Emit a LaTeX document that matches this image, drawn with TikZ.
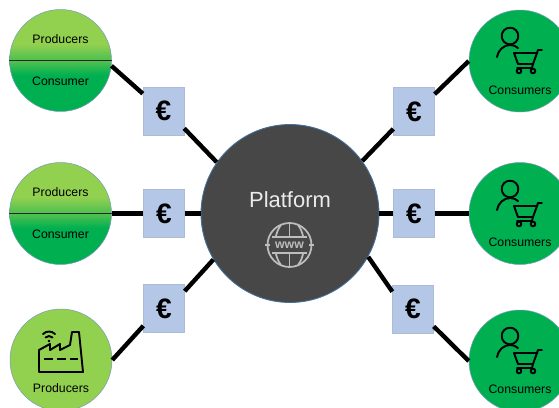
\documentclass[tikz,border=0pt]{standalone}
\usepackage{fontspec}
\setmainfont{Liberation Sans}
\definecolor{prodgreen}{HTML}{92D050}
\definecolor{consgreen}{HTML}{00B050}
\definecolor{midgreen}{HTML}{4FC050}
\definecolor{eurobox}{HTML}{B4C7E7}
\definecolor{platgray}{HTML}{474747}
\definecolor{platrim}{HTML}{41719C}
\definecolor{iconline}{HTML}{BDBDBD}
\pgfdeclareverticalshading{splitgreen}{100bp}{color(0bp)=(consgreen); color(43bp)=(consgreen); color(49.5bp)=(midgreen); color(50.5bp)=(midgreen); color(58bp)=(prodgreen); color(100bp)=(prodgreen)}
\tikzset{
    role/.style={circle, minimum size=2.04cm, inner sep=0pt, draw=platrim!70, line width=0.3pt},
    prod/.style={role, fill=prodgreen},
    cons/.style={role, fill=consgreen},
    both/.style={role, shading=splitgreen},
    rolelabel/.style={font=\fontsize{7}{8}\selectfont, inner sep=0pt},
    eurosign/.style={rectangle, fill=eurobox, draw=eurobox!85!gray, line width=0.2pt, minimum width=0.82cm, minimum height=0.96cm, inner sep=0pt, font=\bfseries\fontsize{16}{16}\selectfont},
    link/.style={line width=2.5pt, black},
    icon/.style={line width=1.1pt, black, line cap=round, line join=round}
}

\begin{document}
\begin{tikzpicture}[x=0.02cm, y=-0.02cm]
\useasboundingbox (0,0) rectangle (559,407);
\clip (0,0) rectangle (559,407);

% Platform in the middle
\node[circle, minimum size=3.56cm, inner sep=0pt, fill=platgray, draw=platrim, line width=0.5pt] (plat) at (290,213.5) {};
\node[text=white!92!black, font=\fontsize{12.5}{13}\selectfont] (plattext) at (290,199.5) {Platform};

% Producers on the left
\node[both] (prod1) at (60.5,60.5) {};
\node[both] (prod2) at (60.5,213.5) {};
\node[prod] (prod3) at (61,360) {};
\draw[line width=1pt, black!85] (prod1.west) -- (prod1.east);
\draw[line width=1pt, black!85] (prod2.west) -- (prod2.east);

% Consumers on the right
\node[cons] (cons1) at (520,61) {};
\node[cons] (cons2) at (520,213.5) {};
\node[cons] (cons3) at (520,361) {};

% Labels
\node[rolelabel] (lab1a) at (60.5,39) {Producers};
\node[rolelabel] (lab1b) at (60.5,81) {Consumer};
\node[rolelabel] (lab2a) at (60.5,192) {Producers};
\node[rolelabel] (lab2b) at (60.5,234) {Consumer};
\node[rolelabel] (lab3) at (61,388) {Producers};
\foreach \n/\y in {1/90,2/242,3/389}
    \node[rolelabel] (lab4\n) at (520,\y) {Consumers};

% Euro boxes
\node[eurosign] (euro1) at (163.5,111) {€};
\node[eurosign] (euro2) at (164,213.5) {€};
\node[eurosign] (euro3) at (164,308.5) {€};
\node[eurosign] (euro4) at (414,111.5) {€};
\node[eurosign] (euro5) at (414,213.5) {€};
\node[eurosign] (euro6) at (413,309) {€};

% Connectors
\draw[link] (prod1.-6) -- (euro1.140);
\draw[link] (euro1.-40) -- (plat.145);
\draw[link] (prod2.east) -- (euro2.west);
\draw[link] (euro2.east) -- (plat.west);
\draw[link] (prod3.east) -- (euro3.220);
\draw[link] (euro3.40) -- (plat.211);
\draw[link] (cons1.west) -- (euro4.40);
\draw[link] (euro4.220) -- (plat.36);
\draw[link] (cons2.west) -- (euro5.east);
\draw[link] (euro5.west) -- (plat.east);
\draw[link] (cons3.west) -- (euro6.-40);
\draw[link] (euro6.140) -- (plat.-29);

% Person and cart
\foreach \cy in {0,153,300} {
    \begin{scope}[yshift=-0.02cm*\cy, icon]
        \draw (510,36) circle (8.3);
        \draw (497,57) .. controls (498,50) and (504,45) .. (510,45) .. controls (513,45) and (516,46) .. (518,48);
        \draw (514,53) -- (537,53) -- (533,64) -- (518,64) -- cycle;
        \draw (537,53) -- (538,50) -- (542,50);
        \draw (533,64) -- (532,68) -- (517,68);
        \draw (519,71) circle (2.3);
        \draw (533,71) circle (2.3);
    \end{scope}
}

% Factory
\draw[icon] (39,372) -- (39,350) -- (50,344) -- (50,350) -- (60,344) -- (60,350) -- (70,345) -- (72,332) -- (79,332) -- (83,372) -- cycle;
\draw[icon, line cap=butt, dash pattern=on 5pt off 2.3pt] (44,359) -- (79,359);
\fill (49,341) circle (1.3);
\draw[icon] (45.5,337.5) arc[start angle=225, end angle=315, radius=5];
\draw[icon] (43,334) arc[start angle=225, end angle=315, radius=8.5];

% Globe
\begin{scope}[iconline, line width=1pt]
    \draw (289.5,245) circle (22);
    \draw (289.5,223) -- (289.5,236);
    \draw (289.5,254) -- (289.5,267);
    \draw (281,225) .. controls (278,229) and (277,232) .. (276,236);
    \draw (298,225) .. controls (301,229) and (302,232) .. (303,236);
    \draw (281,265) .. controls (278,261) and (277,258) .. (276,254);
    \draw (298,265) .. controls (301,261) and (302,258) .. (303,254);
    \draw (272,237) -- (307,237);
    \draw (272,253) -- (307,253);
    \draw (265,245) -- (270,245);
    \draw (309,245) -- (314,245);
\end{scope}
\node[text=iconline, inner sep=0pt, font=\bfseries\fontsize{7}{7}\selectfont] (www) at (289.5,245) {www};
\end{tikzpicture}
\end{document}
